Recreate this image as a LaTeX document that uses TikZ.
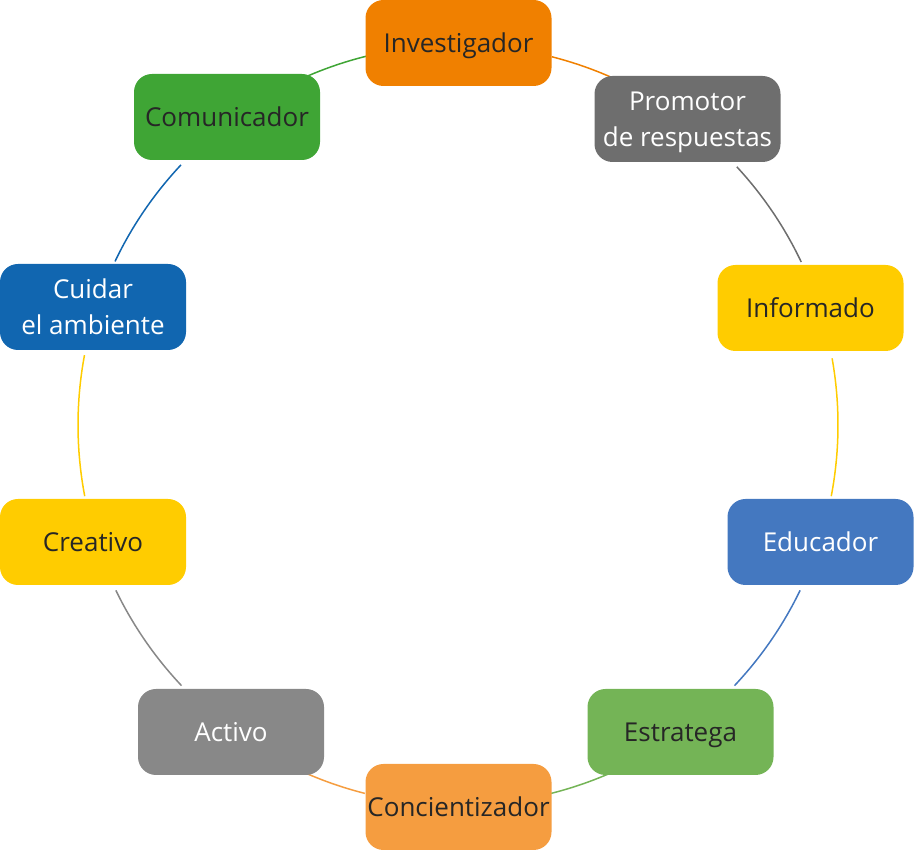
\documentclass[tikz,border=0pt]{standalone}
\usepackage{fontspec}
\setmainfont{Open Sans}
\definecolor{cOrange}{HTML}{F08000}
\definecolor{cGrayD}{HTML}{6E6E6E}
\definecolor{cYellow}{HTML}{FFCC00}
\definecolor{cBlueL}{HTML}{4478C0}
\definecolor{cGreenL}{HTML}{74B456}
\definecolor{cOrangeL}{HTML}{F59D40}
\definecolor{cGrayL}{HTML}{888888}
\definecolor{cBlueD}{HTML}{1166B0}
\definecolor{cGreenD}{HTML}{3FA535}
\definecolor{cText}{HTML}{262626}
\newcommand\vs{\rule[-8pt]{0pt}{36pt}}
\begin{document}
\begin{tikzpicture}[x=1pt,y=1pt,
  box/.style={rounded corners=18pt, minimum width=186pt, minimum height=86pt,
    inner sep=0pt, align=center, font=\fontsize{26}{36}\selectfont},
  dk/.style={text=cText},
  wt/.style={text=white},
  arcline/.style={line width=1.5pt}]
\useasboundingbox (0,0) rectangle (914,850);
\coordinate (C) at (458,425);
% arcs
\draw[arcline,cOrange]  (C) ++(75.7:380) arc[start angle=75.7, end angle=66.2, radius=380];
\draw[arcline,cGrayD]   (C) ++(42.8:380) arc[start angle=42.8, end angle=25.4, radius=380];
\draw[arcline,cYellow]  (C) ++(10.1:380) arc[start angle=10.1, end angle=-10.8, radius=380];
\draw[arcline,cBlueL]   (C) ++(-25.8:380) arc[start angle=-25.8, end angle=-43.3, radius=380];
\draw[arcline,cGreenL]  (C) ++(-65.8:380) arc[start angle=-65.8, end angle=-75.8, radius=380];
\draw[arcline,cOrangeL] (C) ++(-104.2:380) arc[start angle=-104.2, end angle=-113.8, radius=380];
\draw[arcline,cGrayL]   (C) ++(-136.7:380) arc[start angle=-136.7, end angle=-154.2, radius=380];
\draw[arcline,cYellow]  (C) ++(-169.2:380) arc[start angle=-169.2, end angle=-190.6, radius=380];
\draw[arcline,cBlueD]   (C) ++(154.5:380) arc[start angle=154.5, end angle=136.8, radius=380];
\draw[arcline,cGreenD]  (C) ++(113.6:380) arc[start angle=113.6, end angle=104, radius=380];
% nodes
\node[box,dk,fill=cOrange]  (inv) at (458.5,807) {\vs Investigador};
\node[box,wt,fill=cGrayD]   (pro) at (687.5,731) {\vs Promotor\\\vs de respuestas};
\node[box,dk,fill=cYellow]  (inf) at (810.5,542) {\vs Informado};
\node[box,wt,fill=cBlueL]   (edu) at (820.5,308) {\vs Educador};
\node[box,dk,fill=cGreenL]  (est) at (680.5,118) {\vs Estratega};
\node[box,dk,fill=cOrangeL] (con) at (458.5,43) {\vs Concientizador};
\node[box,wt,fill=cGrayL]   (act) at (231,118) {\vs Activo};
\node[box,dk,fill=cYellow]  (cre) at (93,308) {\vs Creativo};
\node[box,wt,fill=cBlueD]   (cui) at (93,543) {\vs Cuidar\\\vs el ambiente};
\node[box,dk,fill=cGreenD]  (com) at (227,733) {\vs Comunicador};
\end{tikzpicture}
\end{document}
